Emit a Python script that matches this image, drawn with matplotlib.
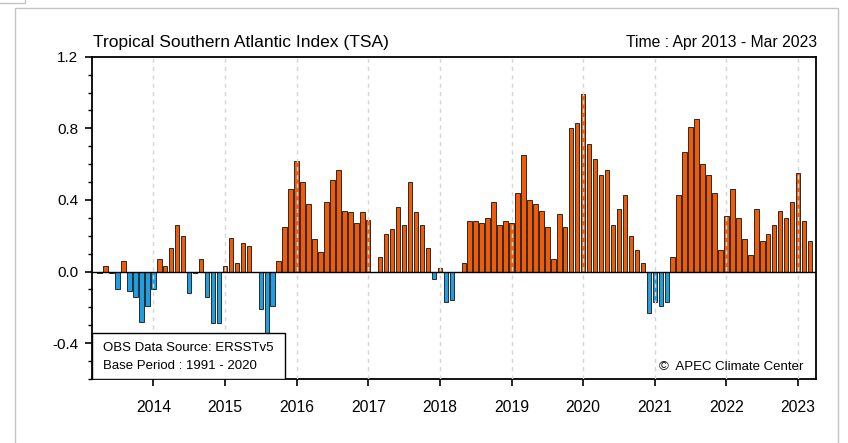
import numpy as np
import matplotlib
matplotlib.use("Agg")
import matplotlib.pyplot as plt
from matplotlib.patches import Rectangle
from matplotlib.lines import Line2D
from matplotlib.ticker import MultipleLocator

plt.rcParams['font.family'] = ['Liberation Sans', 'DejaVu Sans']

# monthly TSA anomalies, Apr 2013 .. Mar 2023
tsa_2013 = [-0.01, 0.03, -0.01, -0.10, 0.06, -0.11, -0.14, -0.28, -0.19]
tsa_2014 = [-0.10, 0.07, 0.03, 0.13, 0.26, 0.20, -0.12, -0.01, 0.07, -0.14, -0.29, -0.29]
tsa_2015 = [0.03, 0.19, 0.05, 0.16, 0.14, -0.005, -0.21, -0.38, -0.19, 0.06, 0.25, 0.46]
tsa_2016 = [0.62, 0.50, 0.38, 0.18, 0.11, 0.39, 0.51, 0.57, 0.34, 0.33, 0.27, 0.33]
tsa_2017 = [0.29, 0.0, 0.08, 0.21, 0.24, 0.36, 0.26, 0.50, 0.33, 0.26, 0.13, -0.04]
tsa_2018 = [0.02, -0.17, -0.16, 0.0, 0.05, 0.28, 0.28, 0.27, 0.30, 0.39, 0.26, 0.28]
tsa_2019 = [0.27, 0.44, 0.65, 0.40, 0.38, 0.34, 0.25, 0.07, 0.32, 0.25, 0.80, 0.83]
tsa_2020 = [0.99, 0.71, 0.63, 0.54, 0.57, 0.26, 0.35, 0.43, 0.20, 0.12, 0.05, -0.23]
tsa_2021 = [-0.17, -0.19, -0.17, 0.08, 0.43, 0.67, 0.81, 0.85, 0.60, 0.54, 0.44, 0.12]
tsa_2022 = [0.31, 0.46, 0.30, 0.18, 0.09, 0.35, 0.17, 0.21, 0.26, 0.34, 0.30, 0.39]
tsa_2023 = [0.55, 0.28, 0.17]

year_labels = ['2014', '2015', '2016', '2017', '2018', '2019', '2020', '2021', '2022', '2023']

tsa = np.array(tsa_2013 + tsa_2014 + tsa_2015 + tsa_2016 + tsa_2017 + tsa_2018
               + tsa_2019 + tsa_2020 + tsa_2021 + tsa_2022 + tsa_2023)
months = np.arange(len(tsa))
jan_idx = np.arange(9, len(tsa), 12)  # January positions

fig = plt.figure(figsize=(8.48, 4.43), dpi=100)
W, H = 848, 443

# outer light-grey frame
fig.patches.append(Rectangle((15 / W, -0.1), (838 - 15) / W, 1.1 - 8 / H,
                             transform=fig.transFigure, fill=False,
                             edgecolor='#c4c4c4', lw=1.0))
fig.lines.append(Line2D([0, 25 / W, 25 / W], [1 - 3 / H, 1 - 3 / H, 1],
                        transform=fig.transFigure, color='#c4c4c4', lw=1.0))

ax = fig.add_axes([92 / W, 1 - 379 / H, (816 - 92) / W, (379 - 56.7) / H])

colors = np.where(tsa >= 0, '#f25a05', '#1e9fe3')
ax.bar(months, tsa, width=0.75, color=colors, edgecolor='#2a2a2a', linewidth=0.7, zorder=2)
ax.axhline(0, color='black', lw=1.0, zorder=4)

for x in jan_idx:
    ax.axvline(x, color='#d6d6d6', lw=1.0, linestyle=(0, (3, 3)), zorder=3)

ax.set_xlim(-1.27, 120.0)
ax.set_ylim(-0.6, 1.2)
ax.set_xticks(jan_idx)
ax.set_xticklabels(year_labels)
ax.yaxis.set_major_locator(MultipleLocator(0.4))
ax.yaxis.set_minor_locator(MultipleLocator(0.1))
ax.set_yticks([-0.4, 0.0, 0.4, 0.8, 1.2])
ax.set_yticklabels(['-0.4', '0.0', '0.4', '0.8', '1.2'])

ax.tick_params(axis='x', which='major', direction='out', length=5, width=1.2,
               pad=10, labelsize=11.3)
ax.tick_params(axis='y', which='major', direction='out', length=5, width=1.2,
               pad=5, labelsize=11)
ax.tick_params(axis='y', which='minor', direction='out', length=3, width=1.0)
for s in ax.spines.values():
    s.set_linewidth(1.3)

# data source box
ax.add_patch(Rectangle((0.0, 0.0), 0.2666, 0.1427, transform=ax.transAxes,
                       facecolor='white', edgecolor='black', lw=1.0, zorder=5))
ax.text(0.0152, 0.096, 'OBS Data Source: ERSSTv5', transform=ax.transAxes,
        fontsize=9.5, va='center', ha='left', zorder=6)
ax.text(0.0152, 0.040, 'Base Period : 1991 - 2020', transform=ax.transAxes,
        fontsize=9.5, va='center', ha='left', zorder=6)
ax.text(0.982, 0.037, '\u00a9  APEC Climate Center', transform=ax.transAxes,
        fontsize=9.5, va='center', ha='right', zorder=6)

fig.text(93 / W, 1 - 47 / H, 'Tropical Southern Atlantic Index (TSA)',
         fontsize=12.5, ha='left', va='baseline')
fig.text(817 / W, 1 - 47 / H, 'Time : Apr 2013 - Mar 2023',
         fontsize=11.3, ha='right', va='baseline')

fig.savefig('out.png', dpi=100)
